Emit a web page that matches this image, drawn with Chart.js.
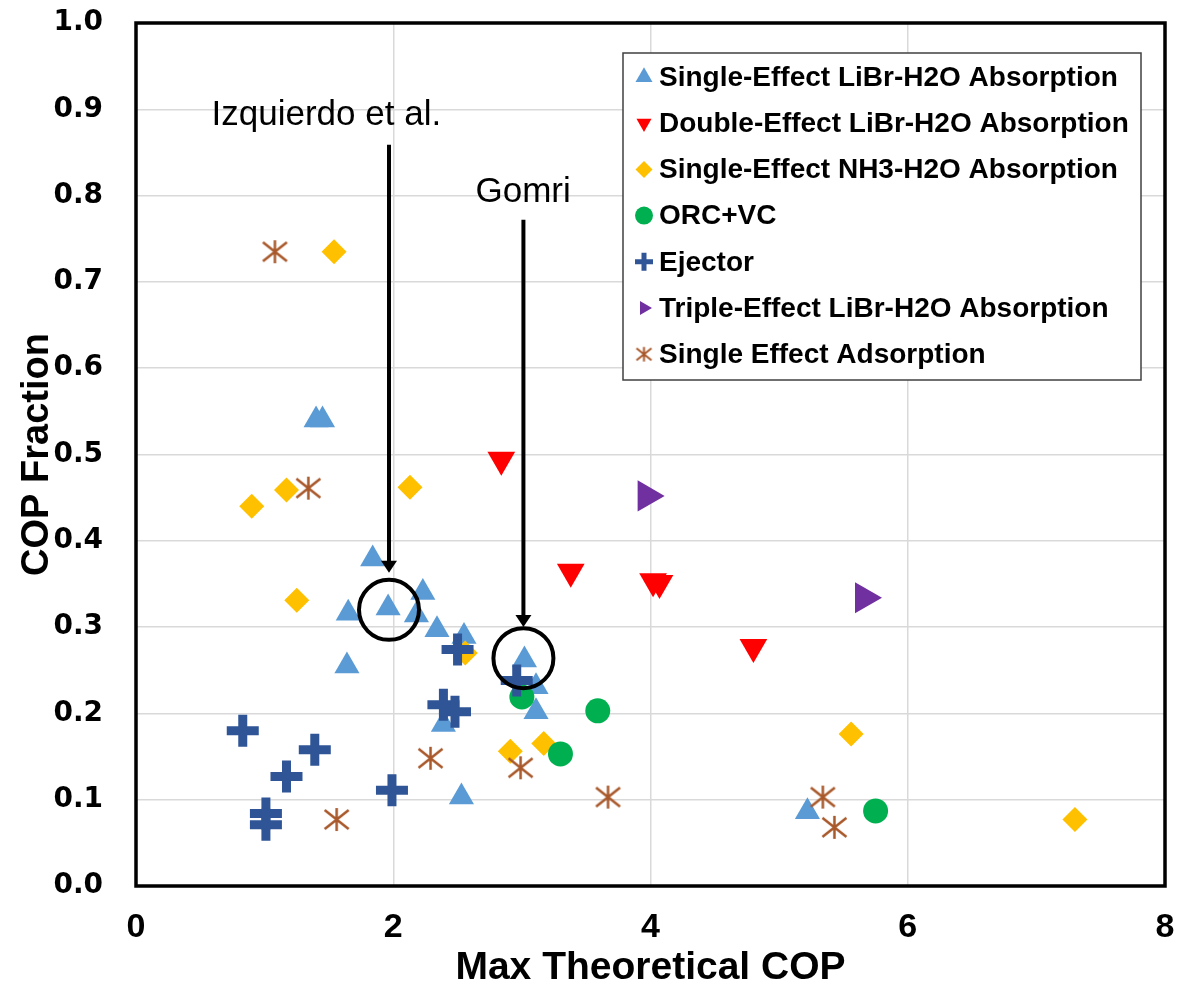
<!DOCTYPE html>
<html>
<head>
<meta charset="utf-8">
<title>COP Fraction vs Max Theoretical COP</title>
<script src="https://cdn.jsdelivr.net/npm/chart.js@4.4.0/dist/chart.umd.min.js"></script>
<style>
  html, body { margin: 0; padding: 0; background: #fff; }
  #wrap { width: 1177px; height: 998px; }
</style>
</head>
<body>
<div id="wrap"><canvas id="copChart" width="1177" height="998"></canvas></div>
<script>
// tick values
const xTicks = [0, 2, 4, 6, 8];
const yTicks = [0, 0.1, 0.2, 0.3, 0.4, 0.5, 0.6, 0.7, 0.8, 0.9, 1.0];

// series labels
const seriesNames = [
	'Single-Effect LiBr-H2O Absorption',
	'Double-Effect LiBr-H2O Absorption',
	'Single-Effect NH3-H2O Absorption',
	'ORC+VC',
	'Ejector',
	'Triple-Effect LiBr-H2O Absorption',
	'Single Effect Adsorption'
];

// [max theoretical COP, COP fraction]
const singleLiBr = [
	[1.40, 0.540], [1.45, 0.540], [1.84, 0.379], [1.96, 0.322], [1.65, 0.316],
	[2.23, 0.340], [2.18, 0.314], [2.34, 0.297], [2.55, 0.289], [1.64, 0.255],
	[2.39, 0.187], [2.53, 0.103], [3.02, 0.262], [3.11, 0.231], [3.11, 0.202],
	[5.22, 0.086]
];
const doubleLiBr = [
	[2.84, 0.494], [3.38, 0.364], [4.02, 0.353], [4.07, 0.351], [4.80, 0.277]
];
const singleNH3 = [
	[1.54, 0.735], [0.90, 0.440], [1.17, 0.459], [2.13, 0.462], [1.25, 0.331],
	[2.56, 0.270], [2.91, 0.156], [3.17, 0.165], [5.56, 0.176], [7.30, 0.077]
];
const orcVc = [
	[3.00, 0.219], [3.59, 0.203], [3.30, 0.153], [5.75, 0.087]
];
const ejector = [
	[0.83, 0.180], [1.39, 0.158], [1.17, 0.127], [1.99, 0.111], [1.01, 0.084],
	[1.01, 0.071], [2.39, 0.210], [2.48, 0.202], [2.50, 0.274], [2.96, 0.238]
];
const tripleLiBr = [
	[3.97, 0.452], [5.66, 0.334]
];
const adsorption = [
	[1.08, 0.735], [1.34, 0.461], [2.29, 0.148], [1.56, 0.077], [2.99, 0.137],
	[3.67, 0.103], [5.34, 0.103], [5.43, 0.068]
];

// callouts (text + arrow + circle), in data units
const callouts = [
	{ text: 'Izquierdo et al.', textX: 1.48, textY: 0.882, x: 1.967, top: 0.859, tip: 0.363, ring: 0.320 },
	{ text: 'Gomri', textX: 3.01, textY: 0.793, x: 3.012, top: 0.772, tip: 0.300, ring: 0.264 }
];

// asterisk marker (Excel style: X plus a vertical bar)
function makeAsterisk(r, color, lw) {
	const c = document.createElement('canvas');
	const s = Math.ceil(r * 2 + lw * 2);
	c.width = s; c.height = s;
	const g = c.getContext('2d');
	const m = s / 2;
	g.strokeStyle = color;
	g.lineWidth = lw;
	g.beginPath();
	g.moveTo(m, m - r * 0.96); g.lineTo(m, m + r * 0.96);
	g.moveTo(m - r, m - r * 0.8); g.lineTo(m + r, m + r * 0.8);
	g.moveTo(m - r, m + r * 0.8); g.lineTo(m + r, m - r * 0.8);
	g.stroke();
	return c;
}

const brown = '#A8582A';
const asteriskBig = makeAsterisk(12, brown, 2.5);

function pts(arr) { return arr.map(p => ({ x: p[0], y: p[1] })); }

const styles = [
	{ color: '#5B9BD5', pointStyle: 'triangle', rotation: 0, radius: 14.5, bw: 0, legendR: 9.8 },
	{ color: '#FF0000', pointStyle: 'triangle', rotation: 180, radius: 16, bw: 0, legendR: 8.7 },
	{ color: '#FFC000', pointStyle: 'rectRot', rotation: 0, radius: 12.5, bw: 0, legendR: 8.5 },
	{ color: '#00B050', pointStyle: 'circle', rotation: 0, radius: 12.5, bw: 0, legendR: 9 },
	{ color: '#2F5597', pointStyle: 'cross', rotation: 0, radius: 16, bw: 9, legendR: 9 },
	{ color: '#7030A0', pointStyle: 'triangle', rotation: 90, radius: 18, bw: 0, legendR: 8 },
	{ color: brown, pointStyle: asteriskBig, rotation: 0, radius: 12, bw: 0, legendR: 7.5 }
];

const seriesData = [singleLiBr, doubleLiBr, singleNH3, orcVc, ejector, tripleLiBr, adsorption];

const datasets = seriesData.map((arr, i) => ({
	label: seriesNames[i],
	data: pts(arr),
	pointStyle: styles[i].pointStyle,
	pointRotation: styles[i].rotation,
	pointRadius: styles[i].radius,
	pointHoverRadius: styles[i].radius,
	backgroundColor: styles[i].color,
	borderColor: styles[i].color,
	borderWidth: styles[i].bw,
	showLine: false,
	order: seriesData.length - 1 - i   // later series on top, like Excel
}));

// plot frame
const framePlugin = {
	id: 'frame',
	beforeDatasetsDraw(chart) {
		const a = chart.chartArea;
		const ctx = chart.ctx;
		ctx.save();
		ctx.strokeStyle = '#000';
		ctx.lineWidth = 3.5;
		ctx.strokeRect(a.left, a.top, a.right - a.left, a.bottom - a.top);
		ctx.restore();
	}
};

// arrows, circles and callout text
const calloutPlugin = {
	id: 'callouts',
	afterDatasetsDraw(chart) {
		const ctx = chart.ctx;
		const xs = chart.scales.x, ys = chart.scales.y;
		ctx.save();
		callouts.forEach(c => {
			const px = xs.getPixelForValue(c.x);
			const top = ys.getPixelForValue(c.top);
			const tip = ys.getPixelForValue(c.tip);
			ctx.strokeStyle = '#000';
			ctx.fillStyle = '#000';
			ctx.lineWidth = 4;
			ctx.beginPath();
			ctx.moveTo(px, top);
			ctx.lineTo(px, tip - 9);
			ctx.stroke();
			ctx.beginPath();
			ctx.moveTo(px - 8, tip - 12);
			ctx.lineTo(px + 8, tip - 12);
			ctx.lineTo(px, tip);
			ctx.closePath();
			ctx.fill();
			ctx.beginPath();
			ctx.arc(px, ys.getPixelForValue(c.ring), 30, 0, Math.PI * 2);
			ctx.stroke();
			ctx.font = '35px "Liberation Sans", Arial, sans-serif';
			ctx.textAlign = 'center';
			ctx.textBaseline = 'alphabetic';
			ctx.fillText(c.text, xs.getPixelForValue(c.textX), ys.getPixelForValue(c.textY));
		});
		ctx.restore();
	}
};

function legendMarker(ctx, st, x, y) {
	const r = st.legendR;
	ctx.fillStyle = st.color;
	ctx.strokeStyle = st.color;
	if (typeof st.pointStyle !== 'string') {
		const small = makeAsterisk(r, st.color, 2);
		ctx.drawImage(small, x - small.width / 2, y - small.height / 2);
		return;
	}
	ctx.beginPath();
	if (st.pointStyle === 'triangle') {
		let rad = st.rotation * Math.PI / 180;
		for (let k = 0; k < 3; k++) {
			const px = x + Math.sin(rad) * r, py = y - Math.cos(rad) * r;
			if (k === 0) ctx.moveTo(px, py); else ctx.lineTo(px, py);
			rad += Math.PI * 2 / 3;
		}
		ctx.closePath();
		ctx.fill();
	} else if (st.pointStyle === 'rectRot') {
		ctx.moveTo(x, y - r); ctx.lineTo(x + r, y); ctx.lineTo(x, y + r); ctx.lineTo(x - r, y);
		ctx.closePath();
		ctx.fill();
	} else if (st.pointStyle === 'circle') {
		ctx.arc(x, y, r, 0, Math.PI * 2);
		ctx.fill();
	} else if (st.pointStyle === 'cross') {
		ctx.lineWidth = 5;
		ctx.moveTo(x - r, y); ctx.lineTo(x + r, y);
		ctx.moveTo(x, y - r); ctx.lineTo(x, y + r);
		ctx.stroke();
	}
}

// boxed legend inside the plot, top right
const legendPlugin = {
	id: 'boxLegend',
	afterDraw(chart) {
		const ctx = chart.ctx;
		const a = chart.chartArea;
		const left = a.right - 542, top = a.top + 30, w = 518, h = 327;
		ctx.save();
		ctx.fillStyle = '#fff';
		ctx.fillRect(left, top, w, h);
		ctx.strokeStyle = '#404040';
		ctx.lineWidth = 1.5;
		ctx.strokeRect(left, top, w, h);
		ctx.font = 'bold 28px "Liberation Sans", Arial, sans-serif';
		ctx.textBaseline = 'middle';
		ctx.textAlign = 'left';
		chart.data.datasets.forEach((ds, i) => {
			const y = top + 24 + i * 46.2;
			legendMarker(ctx, styles[i], left + 21, y);
			ctx.fillStyle = '#000';
			ctx.fillText(ds.label, left + 36, y + 1);
		});
		ctx.restore();
	}
};

const ctx = document.getElementById('copChart').getContext('2d');

new Chart(ctx, {
	type: 'scatter',
	data: { datasets: datasets },
	options: {
		responsive: false,
		animation: false,
		events: [],
		layout: { autoPadding: false, padding: { top: 23, right: 12, left: 0, bottom: 0 } },
		plugins: {
			legend: { display: false },
			tooltip: { enabled: false }
		},
		scales: {
			x: {
				type: 'linear',
				min: 0,
				max: 8,
				afterBuildTicks: s => { s.ticks = xTicks.map(v => ({ value: v })); },
				afterFit: s => { s.height = 112; s.paddingLeft = 0; s.paddingRight = 0; },
				grid: { color: '#D9D9D9', lineWidth: 1.5, drawTicks: false },
				border: { display: false },
				ticks: {
					padding: 21,
					color: '#000',
					maxRotation: 0,
					font: { family: '"Liberation Sans", Arial, sans-serif', weight: 'bold', size: 34, lineHeight: 1.2 }
				},
				title: {
					display: true,
					text: 'Max Theoretical COP',
					color: '#000',
					padding: { top: 0, bottom: 10 },
					font: { family: '"Liberation Sans", Arial, sans-serif', weight: 'bold', size: 39, lineHeight: 1 }
				}
			},
			y: {
				type: 'linear',
				min: 0,
				max: 1,
				afterBuildTicks: s => { s.ticks = yTicks.map(v => ({ value: v })); },
				afterFit: s => { s.width = 136; s.paddingTop = 0; s.paddingBottom = 0; },
				grid: { color: '#D9D9D9', lineWidth: 1.5, drawTicks: false },
				border: { display: false },
				ticks: {
					padding: 33,
					color: '#000',
					callback: v => Number(v).toFixed(1),
					font: { family: '"DejaVu Sans", sans-serif', weight: 'bold', size: 28 }
				},
				title: {
					display: true,
					text: 'COP Fraction',
					color: '#000',
					padding: { top: 19, bottom: 0 },
					font: { family: '"Liberation Sans", Arial, sans-serif', weight: 'bold', size: 38, lineHeight: 1 }
				}
			}
		}
	},
	plugins: [framePlugin, calloutPlugin, legendPlugin]
});
</script>
</body>
</html>
